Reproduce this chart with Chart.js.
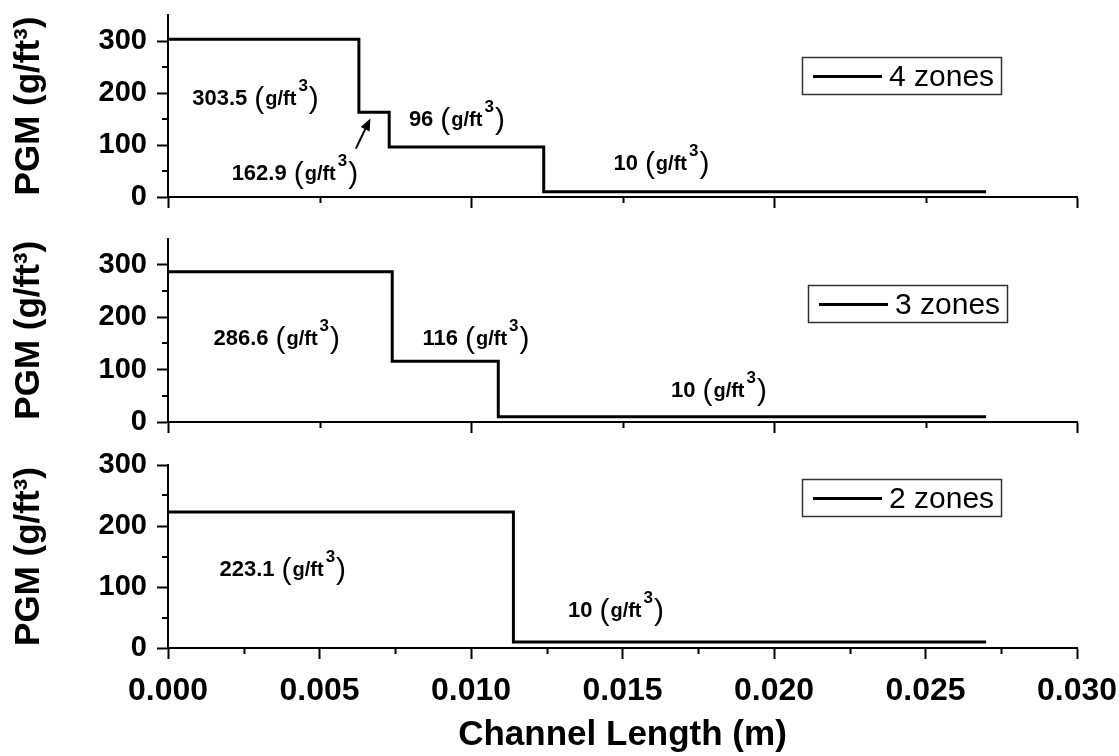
<!DOCTYPE html>
<html>
<head>
<meta charset="utf-8">
<title>PGM zone loading</title>
<script src="https://cdn.jsdelivr.net/npm/chart.js@4.4.0/dist/chart.umd.min.js"></script>
<style>
  body { margin: 0; background: #fff; }
  #wrap { position: relative; width: 1119px; height: 756px; }
  #wrap canvas { position: absolute; left: 0; }
</style>
</head>
<body>
<div id="wrap">
  <canvas id="zones4" width="1119" height="220" style="top:0"></canvas>
  <canvas id="zones3" width="1119" height="225" style="top:220px"></canvas>
  <canvas id="zones2" width="1119" height="311" style="top:445px"></canvas>
</div>
<script>
// zone boundaries along the channel (m) and PGM loading in each zone (g/ft3)
const edges4 = [0, 0.0063, 0.0073, 0.0124, 0.027];
const loads4 = [303.5, 162.9, 96, 10];
const edges3 = [0, 0.0074, 0.0109, 0.027];
const loads3 = [286.6, 116, 10];
const edges2 = [0, 0.0114, 0.027];
const loads2 = [223.1, 10];

const seriesNames = ['4 zones', '3 zones', '2 zones'];
const xTickLabels = ['0.000', '0.005', '0.010', '0.015', '0.020', '0.025', '0.030'];
const yTickLabels = ['0', '100', '200', '300'];

// where the loading labels sit (data units: x, baseline y)
const labelPos4 = [[0.0008, 176], [0.0021, 32], [0.00795, 137], [0.0147, 51]];
const labelPos3 = [[0.0015, 147], [0.0084, 147], [0.0166, 48]];
const labelPos2 = [[0.0017, 118], [0.0132, 51]];
const arrow4 = [[0.0062, 93], [0.00668, 151]];

const FONT = '"Liberation Sans", Arial, sans-serif';

// short ticks between the labelled ones
const minorTicks = {
  id: 'minorTicks',
  afterDraw(chart, args, opts) {
    const ctx = chart.ctx;
    const xs = chart.scales.x, ys = chart.scales.y;
    ctx.save();
    ctx.strokeStyle = '#000';
    ctx.lineWidth = 2;
    ctx.beginPath();
    for (let i = 1; i * opts.x <= xs.max + 1e-9; i += 2) {
      const px = Math.round(xs.getPixelForValue(i * opts.x)) + 0.5;
      ctx.moveTo(px, ys.bottom);
      ctx.lineTo(px, ys.bottom + 6);
    }
    for (let i = 1; i * opts.y <= ys.max + 1e-9; i += 2) {
      if (i * opts.y >= ys.max) continue;
      const py = Math.round(ys.getPixelForValue(i * opts.y));
      ctx.moveTo(xs.left, py);
      ctx.lineTo(xs.left - 6, py);
    }
    ctx.stroke();
    ctx.restore();
  }
};

// boxed legend inside the plot
const legendBox = {
  id: 'legendBox',
  afterDraw(chart, args, opts) {
    const ctx = chart.ctx;
    const area = chart.chartArea;
    const w = 199, h = 37;
    const left = area.right - opts.right - w;
    const top = area.top + opts.top;
    ctx.save();
    ctx.fillStyle = '#fff';
    ctx.fillRect(left, top, w, h);
    ctx.strokeStyle = '#333';
    ctx.lineWidth = 1.5;
    ctx.strokeRect(left + 0.5, top + 0.5, w, h);
    ctx.strokeStyle = '#000';
    ctx.lineWidth = 3;
    ctx.beginPath();
    ctx.moveTo(left + 11, top + h / 2 + 1);
    ctx.lineTo(left + 80, top + h / 2 + 1);
    ctx.stroke();
    ctx.fillStyle = '#000';
    ctx.font = '30px ' + FONT;
    ctx.textBaseline = 'middle';
    ctx.fillText(chart.data.datasets[0].label, left + 87, top + h / 2 + 2);
    ctx.restore();
  }
};

function drawLoadLabel(ctx, x, y, value) {
  let cx = x;
  ctx.font = 'bold 22px ' + FONT;
  ctx.fillText(value, cx, y);
  cx += ctx.measureText(value).width + 7;
  ctx.font = '30px ' + FONT;
  ctx.fillText('(', cx, y + 3);
  cx += ctx.measureText('(').width + 1;
  ctx.font = 'bold 20px ' + FONT;
  ctx.fillText('g/ft', cx, y);
  cx += ctx.measureText('g/ft').width + 2;
  ctx.font = 'bold 17px ' + FONT;
  ctx.fillText('3', cx, y - 14);
  cx += ctx.measureText('3').width + 1;
  ctx.font = '30px ' + FONT;
  ctx.fillText(')', cx, y + 3);
}

const loadLabels = {
  id: 'loadLabels',
  afterDraw(chart, args, opts) {
    const ctx = chart.ctx;
    const xs = chart.scales.x, ys = chart.scales.y;
    ctx.save();
    ctx.fillStyle = '#000';
    ctx.textAlign = 'left';
    ctx.textBaseline = 'alphabetic';
    opts.anchors.forEach((p, i) => {
      drawLoadLabel(ctx, xs.getPixelForValue(p[0]), ys.getPixelForValue(p[1]), String(opts.values[i]));
    });
    if (opts.arrow) {
      const x0 = xs.getPixelForValue(opts.arrow[0][0]), y0 = ys.getPixelForValue(opts.arrow[0][1]);
      const x1 = xs.getPixelForValue(opts.arrow[1][0]), y1 = ys.getPixelForValue(opts.arrow[1][1]);
      const a = Math.atan2(y1 - y0, x1 - x0);
      ctx.strokeStyle = '#000';
      ctx.lineWidth = 2;
      ctx.beginPath();
      ctx.moveTo(x0, y0);
      ctx.lineTo(x1 - 8 * Math.cos(a), y1 - 8 * Math.sin(a));
      ctx.stroke();
      ctx.beginPath();
      ctx.moveTo(x1, y1);
      ctx.lineTo(x1 - 12 * Math.cos(a) + 5 * Math.sin(a), y1 - 12 * Math.sin(a) - 5 * Math.cos(a));
      ctx.lineTo(x1 - 12 * Math.cos(a) - 5 * Math.sin(a), y1 - 12 * Math.sin(a) + 5 * Math.cos(a));
      ctx.closePath();
      ctx.fill();
    }
    ctx.restore();
  }
};

function makePanel(id, edges, loads, name, cfg) {
  // one point per zone start, plus the channel end
  const points = edges.map((x, i) => ({ x: x, y: loads[Math.min(i, loads.length - 1)] }));
  const axisBorder = { display: true, color: '#000', width: 2 };
  const axisGrid = { drawOnChartArea: false, drawTicks: true, tickLength: 11, tickWidth: 2, tickColor: '#000' };

  return new Chart(document.getElementById(id), {
    type: 'line',
    data: {
      datasets: [{
        label: name,
        data: points,
        stepped: 'before',
        borderColor: '#000',
        borderWidth: 3,
        borderCapStyle: 'butt',
        borderJoinStyle: 'miter',
        pointRadius: 0,
        fill: false
      }]
    },
    options: {
      responsive: false,
      animation: false,
      layout: { padding: { top: cfg.padTop, right: 42, left: 0, bottom: 0 } },
      plugins: {
        legend: { display: false },
        tooltip: { enabled: false },
        legendBox: cfg.legend,
        minorTicks: { x: cfg.xStep / 2, y: 50 },
        loadLabels: { values: loads, anchors: cfg.labels, arrow: cfg.arrow }
      },
      scales: {
        x: {
          type: 'linear',
          min: 0,
          max: 0.03,
          border: axisBorder,
          grid: axisGrid,
          ticks: {
            display: cfg.showX,
            stepSize: cfg.xStep,
            autoSkip: false,
            maxRotation: 0,
            padding: 13,
            color: '#000',
            font: { family: FONT, size: 32, weight: 'bold' },
            callback: (v) => xTickLabels[Math.round(v / 0.005)]
          },
          title: {
            display: cfg.showX,
            text: 'Channel Length (m)',
            color: '#000',
            font: { family: FONT, size: 35, weight: 'bold' },
            padding: { top: 0, bottom: 0 }
          },
          afterFit: (scale) => {
            scale.height = cfg.xHeight;
            scale.paddingLeft = 0;
            scale.paddingRight = 0;
          }
        },
        y: {
          min: 0,
          max: cfg.yMax,
          border: axisBorder,
          grid: axisGrid,
          ticks: {
            stepSize: 100,
            includeBounds: false,
            padding: 10,
            color: '#000',
            font: { family: FONT, size: 29, weight: 'bold' },
            callback: (v) => yTickLabels[Math.round(v / 100)]
          },
          title: {
            display: true,
            text: 'PGM (g/ft³)',
            color: '#000',
            font: { family: FONT, size: 35, weight: 'bold' },
            padding: { top: 8, bottom: 0 }
          },
          afterFit: (scale) => {
            scale.width = 168;
            scale.paddingTop = 0;
            scale.paddingBottom = 0;
          }
        }
      }
    },
    plugins: [minorTicks, legendBox, loadLabels]
  });
}

makePanel('zones4', edges4, loads4, seriesNames[0], {
  padTop: 15, xHeight: 23, yMax: 350, xStep: 0.01, showX: false,
  legend: { right: 76, top: 42 }, labels: labelPos4, arrow: arrow4
});
makePanel('zones3', edges3, loads3, seriesNames[1], {
  padTop: 18.5, xHeight: 23, yMax: 350, xStep: 0.01, showX: false,
  legend: { right: 70, top: 46.5 }, labels: labelPos3
});
makePanel('zones2', edges2, loads2, seriesNames[2], {
  padTop: 20, xHeight: 108, yMax: 300, xStep: 0.005, showX: true,
  legend: { right: 76, top: 14 }, labels: labelPos2
});
</script>
</body>
</html>
